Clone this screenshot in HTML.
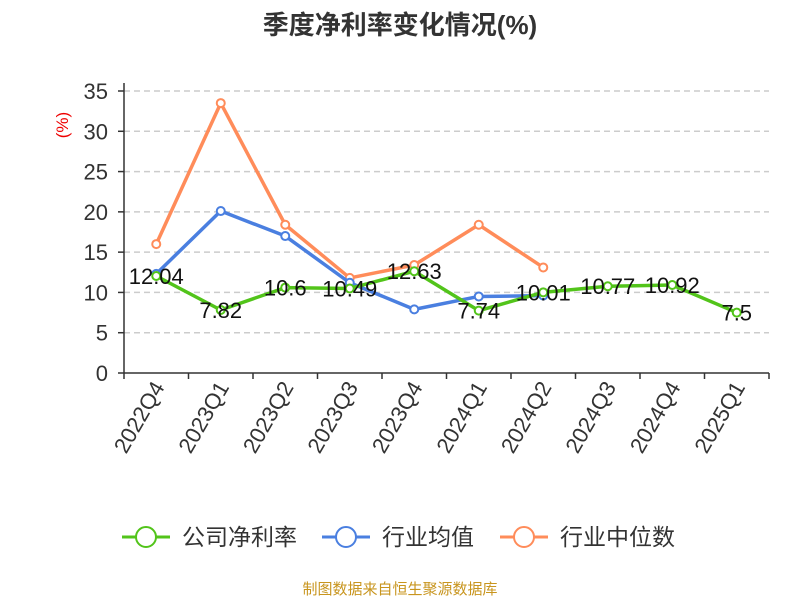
<!DOCTYPE html>
<html><head><meta charset="utf-8"><style>
body{margin:0;background:#fff;font-family:"Liberation Sans","Noto Sans CJK SC",sans-serif}
</style></head><body>
<svg width="800" height="600" xmlns="http://www.w3.org/2000/svg" style="font-family:'Liberation Sans','Noto Sans CJK SC',sans-serif">
<text x="400" y="34" text-anchor="middle" font-size="26" font-weight="bold" fill="#333">季度净利率变化情况(%)</text>
<text x="68" y="125" text-anchor="middle" font-size="17" fill="#e00" transform="rotate(-90 68 125)">(%)</text>
<g id="grid"></g><g id="axes"></g><g id="series"></g><g id="labels"></g>
<g>
<g><line x1="122" y1="537" x2="170" y2="537" stroke="#52c41a" stroke-width="3"/><circle cx="146" cy="537" r="10" fill="#fff" stroke="#52c41a" stroke-width="2"/><text x="182" y="545" font-size="23" fill="#333">公司净利率</text></g>
<g><line x1="322" y1="537" x2="370" y2="537" stroke="#4a7fe0" stroke-width="3"/><circle cx="346" cy="537" r="10" fill="#fff" stroke="#4a7fe0" stroke-width="2"/><text x="382" y="545" font-size="23" fill="#333">行业均值</text></g>
<g><line x1="500" y1="537" x2="548" y2="537" stroke="#ff8c5a" stroke-width="3"/><circle cx="524" cy="537" r="10" fill="#fff" stroke="#ff8c5a" stroke-width="2"/><text x="560" y="545" font-size="23" fill="#333">行业中位数</text></g>
</g>
<text x="400" y="594" text-anchor="middle" font-size="15" fill="#c8951e">制图数据来自恒生聚源数据库</text>
</svg>
<script>
const categories=["2022Q4","2023Q1","2023Q2","2023Q3","2023Q4","2024Q1","2024Q2","2024Q3","2024Q4","2025Q1"];
const company=[12.04,7.82,10.6,10.49,12.63,7.74,10.01,10.77,10.92,7.5];
const industryAvg=[12.3,20.1,17.0,11.2,7.9,9.5,9.6];
const industryMedian=[16.0,33.5,18.4,11.8,13.4,18.4,13.1];
const yTicks=[0,5,10,15,20,25,30,35];
const NS="http://www.w3.org/2000/svg";
const x0=124,x1=769,yb=373,yt=91,ymax=35;
const bw=(x1-x0)/categories.length;
const xs=i=>x0+bw*(i+0.5);
const ys=v=>yb-(v/ymax)*(yb-yt);
function mk(tag,attrs,parent){const e=document.createElementNS(NS,tag);for(const k in attrs)e.setAttribute(k,attrs[k]);document.getElementById(parent).appendChild(e);return e;}
yTicks.forEach(t=>{
  if(t>0){const g=mk('line',{x1:x0,x2:x1,y1:ys(t),y2:ys(t),stroke:'#ccc','stroke-dasharray':'6,4','stroke-width':1.5},'grid');
  
  }
  const tk=mk('line',{x1:x0-6,x2:x0,y1:ys(t),y2:ys(t),stroke:'#333','stroke-width':1.5},'axes');
  
  
  const tl=mk('text',{x:x0-16,y:ys(t)+8,'text-anchor':'end','font-size':22,fill:'#333'},'axes');tl.textContent=t;
  
  
});
const ya=mk('line',{x1:x0,x2:x0,y1:yt-8,y2:yb,stroke:'#333','stroke-width':1.5},'axes');


const xa=mk('line',{x1:x0,x2:x1,y1:yb,y2:yb,stroke:'#333','stroke-width':1.5},'axes');


for(let i=0;i<=categories.length;i++){const tk=mk('line',{x1:x0+bw*i,x2:x0+bw*i,y1:yb,y2:yb+6,stroke:'#333','stroke-width':1.5},'axes');
  
  }
categories.forEach((c,i)=>{const x=xs(i)+9,y=yb+14;
  const t=mk('text',{x:x,y:y,'text-anchor':'end','font-size':22,fill:'#333',transform:`rotate(-60 ${x} ${y})`},'axes');t.textContent=c;
  
  });
function series(data,color,name){
  const p=mk('polyline',{points:data.map((v,i)=>xs(i)+','+ys(v)).join(' '),fill:'none',stroke:color,'stroke-width':3.5,'stroke-linejoin':'round'},'series');
  
  
  data.forEach((v,i)=>{const c=mk('circle',{cx:xs(i),cy:ys(v),r:4,fill:'#fff',stroke:color,'stroke-width':2},'series');
    
    });
}
series(industryMedian,'#ff8c5a','industry-median');
series(industryAvg,'#4a7fe0','industry-avg');
series(company,'#52c41a','company');
company.forEach((v,i)=>{const t=mk('text',{x:xs(i),y:ys(v)+8,'text-anchor':'middle','font-size':22,fill:'#111'},'labels');t.textContent=v;
  
  });
</script>
</body></html>
